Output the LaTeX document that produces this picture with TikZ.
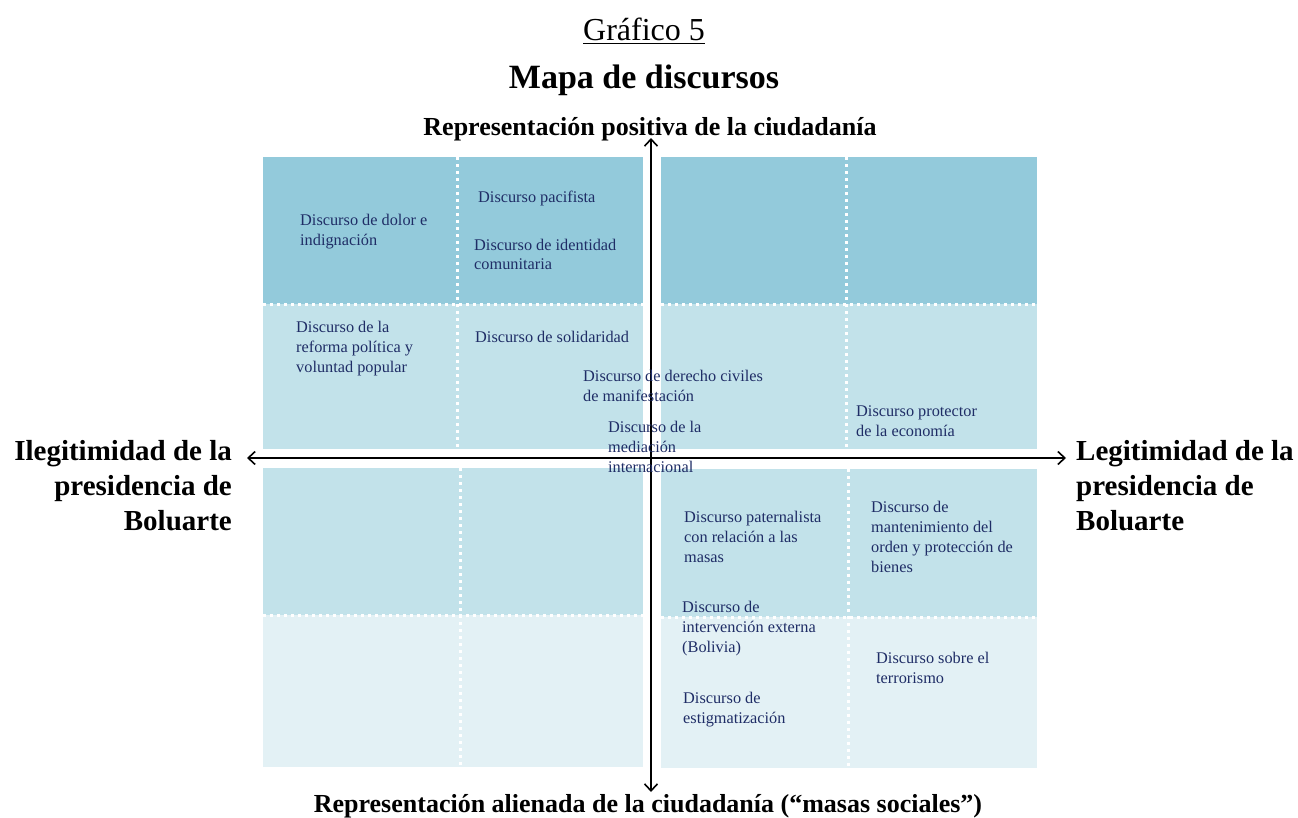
\documentclass[tikz,border=0pt]{standalone}
\usepackage{fontspec}
\setmainfont{Liberation Serif}
\usetikzlibrary{arrows.meta}
\definecolor{darkcell}{HTML}{93CADB}
\definecolor{midcell}{HTML}{C2E2EA}
\definecolor{lightcell}{HTML}{E3F1F5}
\definecolor{navytext}{HTML}{1F2D66}
\begin{document}
\begin{tikzpicture}[x=1pt,y=-1pt,
  disc/.style={anchor=base west, inner sep=0pt, align=left, text=navytext,
    font=\fontsize{16.3}{20}\selectfont},
  sepline/.style={white, line width=3pt, dash pattern=on 3pt off 4pt},
  axisline/.style={black, line width=1.6pt,
    {Straight Barb[length=7pt,width=13pt]}-{Straight Barb[length=7pt,width=13pt]}},
  sidelabel/.style={inner sep=0pt, font=\bfseries\fontsize{29}{35}\selectfont},
  axislabel/.style={anchor=base, inner sep=0pt, font=\bfseries\fontsize{26}{30}\selectfont}]
\useasboundingbox (0,0) rectangle (1298,818);
% panels
\fill[darkcell] (263,157) rectangle (643,304);
\fill[midcell] (263,304) rectangle (643,449);
\fill[midcell] (263,468) rectangle (643,615);
\fill[lightcell] (263,615) rectangle (643,767);
\fill[darkcell] (661,157) rectangle (1037,304);
\fill[midcell] (661,304) rectangle (1037,449);
\fill[midcell] (661,469) rectangle (1037,617);
\fill[lightcell] (661,617) rectangle (1037,768);
% dotted separators
\draw[sepline] (263,304) -- (643,304);
\draw[sepline] (457,157) -- (457,449);
\draw[sepline] (263,615) -- (643,615);
\draw[sepline] (460,468) -- (460,767);
\draw[sepline] (661,304) -- (1037,304);
\draw[sepline] (846,157) -- (846,449);
\draw[sepline] (661,617) -- (1037,617);
\draw[sepline] (848,469) -- (848,768);
% titles (base anchor of a multi-line node = last line)
\node[anchor=base, inner sep=0pt, font=\fontsize{32}{36}\selectfont] (title) at (644,41) {\underline{Gráfico 5}};
\node[anchor=base, inner sep=0pt, font=\bfseries\fontsize{34}{40}\selectfont] (map) at (644,89) {Mapa de discursos};
\node[axislabel] (toplab) at (650,136) {Representación positiva de la ciudadanía};
\node[axislabel] (botlab) at (648,812) {Representación alienada de la ciudadanía (“masas sociales”)};
\node[sidelabel, anchor=base east, align=right] (leftlab) at (232,530) {Ilegitimidad de la\\presidencia de\\Boluarte};
\node[sidelabel, anchor=base west, align=left] (rightlab) at (1076,530) {Legitimidad de la\\presidencia de\\Boluarte};
% axes
\coordinate (ytop) at (651,138);
\coordinate (ybot) at (651,792);
\coordinate (xl) at (247,458);
\coordinate (xr) at (1066,458);
\draw[axisline] (ybot) -- (ytop);
\draw[axisline] (xl) -- (xr);
% discourse texts
\node[disc] (dolor) at (300,246) {Discurso de dolor e\\indignación};
\node[disc] (pacif) at (478,203) {Discurso pacifista};
\node[disc] (ident) at (474,270) {Discurso de identidad\\comunitaria};
\node[disc] (reforma) at (296,372) {Discurso de la\\reforma política y\\voluntad popular};
\node[disc] (solid) at (475,342) {Discurso de solidaridad};
\node[disc] (derecho) at (583,401) {Discurso de derecho civiles\\de manifestación};
\node[disc] (mediac) at (608,472) {Discurso de la\\mediación\\internacional};
\node[disc] (protec) at (856,436) {Discurso protector\\de la economía};
\node[disc] (patern) at (684,562) {Discurso paternalista\\con relación a las\\masas};
\node[disc] (manten) at (871,572) {Discurso de\\mantenimiento del\\orden y protección de\\bienes};
\node[disc] (interv) at (682,652) {Discurso de\\intervención externa\\(Bolivia)};
\node[disc] (terror) at (876,683) {Discurso sobre el\\terrorismo};
\node[disc] (estigma) at (683,723) {Discurso de\\estigmatización};
\end{tikzpicture}
\end{document}
